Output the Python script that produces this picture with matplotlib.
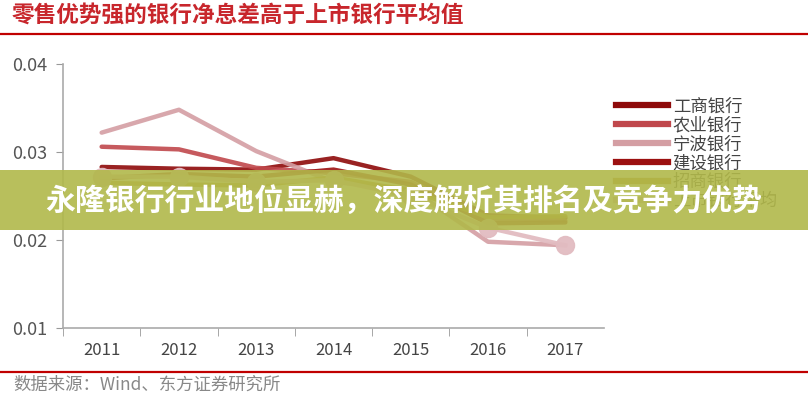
import matplotlib
matplotlib.use('Agg')
import matplotlib.pyplot as plt
from matplotlib.patches import Rectangle
from matplotlib.lines import Line2D

plt.rcParams['font.family'] = ['Noto Sans CJK SC', 'DejaVu Sans']

# data (values under the banner are estimates)
years = ['2011', '2012', '2013', '2014', '2015', '2016', '2017']
icbc = [0.0283, 0.0281, 0.0280, 0.0293, 0.0272, 0.0228, 0.0225]
abc = [0.0306, 0.0303, 0.0282, 0.0276, 0.0266, 0.0224, 0.0222]
ningbo = [0.0322, 0.0348, 0.0301, 0.0266, 0.0258, 0.0198, 0.0194]
ccb = [0.0270, 0.0275, 0.0272, 0.0280, 0.0263, 0.0219, 0.0220]
cmb = [0.0265, 0.0263, 0.0262, 0.0271, 0.0256, 0.0226, 0.0227]
avg = [0.0272, 0.0272, 0.0266, 0.0268, 0.0250, 0.0214, 0.0194]

series = [
    ('工商银行', icbc, '#8e0a0a'),
    ('农业银行', abc, '#c0484c'),
    ('宁波银行', ningbo, '#d49ea3'),
    ('建设银行', ccb, '#9c1010'),
    ('招商银行', cmb, '#b8902a'),
]

fig = plt.figure(figsize=(8.08, 4.0), dpi=100)
ax = fig.add_axes([0.078, 0.18, 0.6695, 0.66])

x = range(len(years))
for name, vals, col in series:
    ax.plot(x, vals, color=col, lw=3.2, alpha=0.9, solid_capstyle='round')
ax.plot(x, avg, color='#e2bcc1', lw=3.2, marker='o', markersize=13, alpha=0.95)

ax.set_xlim(-0.5, 6.5)
ax.set_ylim(0.01, 0.04)
ax.set_yticks([0.01, 0.02, 0.03, 0.04])
ax.set_yticklabels(['0.01', '0.02', '0.03', '0.04'])
ax.set_xticks(list(x))
ax.set_xticklabels(years)
ax.set_xticks([i - 0.5 for i in range(7)], minor=True)
ax.tick_params(axis='x', which='major', length=0, pad=10, labelsize=12, labelcolor='#444444')
ax.tick_params(axis='x', which='minor', length=6, color='#999999', direction='out')
ax.tick_params(axis='y', length=5, color='#999999', labelsize=13, labelcolor='#555555', pad=6)
for s in ['top', 'right']:
    ax.spines[s].set_visible(False)
for s in ['left', 'bottom']:
    ax.spines[s].set_color('#aaaaaa')
    ax.spines[s].set_linewidth(1.2)

# legend
handles = [Line2D([0], [0], color=c, lw=4.5) for _, _, c in series]
handles.append(Line2D([0], [0], color='#e2bcc1', lw=4.5))
labels = [n for n, _, _ in series] + ['上市银行平均']
leg = fig.legend(handles, labels, loc='upper left', bbox_to_anchor=(0.752, 0.778),
                 frameon=False, fontsize=12.5, labelspacing=0.05, handlelength=3.0,
                 handletextpad=0.25, borderpad=0)
for t in leg.get_texts():
    t.set_color('#444444')

# header and footer
fig.text(0.014, 0.962, '零售优势强的银行净息差高于上市银行平均值', color='#c8262c',
         fontsize=16.3, fontweight='bold', va='center', ha='left')
fig.add_artist(Line2D([0, 1], [0.914, 0.914], color='#c00000', lw=1.6, transform=fig.transFigure))
fig.add_artist(Line2D([0, 1], [0.07, 0.07], color='#c00000', lw=1.6, transform=fig.transFigure))
fig.text(0.017, 0.037, '数据来源：Wind、东方证券研究所', color='#888888', fontsize=12.5,
         va='center', ha='left')

# banner overlay
fig.add_artist(Rectangle((0, 0.425), 1, 0.15, transform=fig.transFigure,
                         facecolor='#b1b84a', alpha=0.9, edgecolor='none', zorder=10))
fig.text(0.5, 0.497, '永隆银行行业地位显赫，深度解析其排名及竞争力优势', color='white',
         fontsize=21.5, fontweight='bold', ha='center', va='center', zorder=11)

fig.savefig('out.png', dpi=100)
